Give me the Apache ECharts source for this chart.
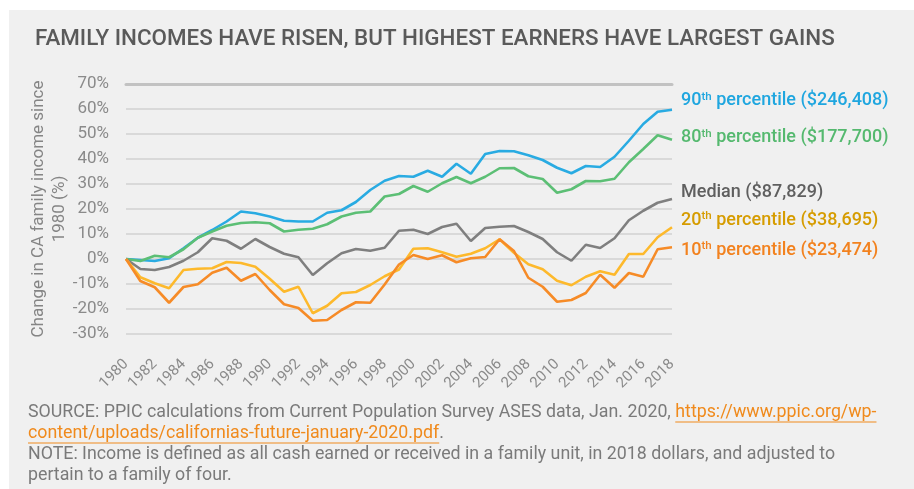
<!DOCTYPE html>
<html>
<head>
<meta charset="utf-8">
<script src="https://cdn.jsdelivr.net/npm/echarts@6/dist/echarts.min.js"></script>
<style>
  html, body { margin: 0; padding: 0; background: #fff; }
  #chart { width: 914px; height: 489px; }
</style>
</head>
<body>
<div id="chart"></div>
<script>
// years on the x axis
const years = ['1980', '1981', '1982', '1983', '1984', '1985', '1986', '1987', '1988', '1989',
  '1990', '1991', '1992', '1993', '1994', '1995', '1996', '1997', '1998', '1999',
  '2000', '2001', '2002', '2003', '2004', '2005', '2006', '2007', '2008', '2009',
  '2010', '2011', '2012', '2013', '2014', '2015', '2016', '2017', '2018'];

// change in CA family income since 1980 (%)
const p90 = [0, -0.4, -0.8, 0.3, 4.3, 8.5, 11.6, 15, 19, 18.3,
  17, 15.3, 15, 15, 18.5, 19.5, 22.8, 27.6, 31.3, 33.2,
  32.9, 35.3, 32.9, 38.1, 34.1, 42, 43.2, 43.1, 41.5, 39.6,
  36.5, 34.3, 37.2, 36.8, 40.9, 47.3, 54, 58.9, 59.7];
const p80 = [0, -0.8, 1.3, 0.7, 3.9, 8.5, 11, 13.3, 14.4, 14.7,
  14.3, 11, 11.7, 12.1, 13.9, 17, 18.5, 19, 25, 26,
  29.2, 26.9, 30.3, 32.8, 30.3, 32.9, 36.3, 36.4, 33.1, 32,
  26.5, 27.9, 31.2, 31.1, 32.1, 38.7, 44, 49.5, 47.7];
const median = [0, -4, -4.4, -3.2, -0.7, 2.7, 8.3, 7.3, 4.1, 8,
  4.8, 2.1, 0.7, -6.4, -1.7, 2.3, 4, 3.3, 4.5, 11.3,
  11.7, 10, 12.8, 14.1, 7.2, 12.4, 12.9, 13.2, 10.8, 8,
  2.7, -0.7, 5.7, 4.4, 8.3, 15.5, 19.3, 22.5, 24];
const p20 = [0, -7.3, -9.7, -11.7, -4.4, -3.9, -3.7, -1.2, -1.6, -3.1,
  -7.9, -13.1, -11.1, -21.7, -18.7, -13.7, -13.2, -10.4, -6.9, -4.2,
  4.1, 4.3, 2.7, 0.9, 2.1, 4.3, 7.9, 2.5, -2.1, -4.1,
  -8.7, -10.5, -7.1, -4.9, -6.3, 2, 2, 8.7, 12.7];
const p10 = [0, -8.8, -11.3, -17.5, -11.2, -10.1, -5.5, -3.5, -8.7, -6,
  -12.4, -18.1, -19.6, -24.7, -24.4, -20.4, -17.3, -17.5, -10.2, -2.2,
  1.6, 0, 1.5, -1.3, 0.3, 0.8, 7.9, 3.2, -7.5, -11.1,
  -17.1, -16.4, -13.6, -6.3, -11.5, -5.6, -7.1, 3.9, 4.7];

// end labels: rank, 2018 family income
const ranks = ['90', '80', 'Median', '20', '10'];
const incomes = ['$246,408', '$177,700', '$87,829', '$38,695', '$23,474'];

const seriesData = [p90, p80, median, p20, p10];
const lineColors = ['#29abe2', '#5cbf75', '#7f7f7f', '#fdb92c', '#f68b27'];
const textColors = ['#1fa6df', '#55b96f', '#5f5f5f', '#d69c00', '#f2821f'];
const labelShift = [-9, -2, -7, -7, 3];

const FONT = 'Roboto, "Noto Sans", sans-serif';
const noteColor = '#7a7a7a';
const linkColor = '#f08a1c';

function textWidth(str, size) {
  const ctx = document.createElement('canvas').getContext('2d');
  ctx.font = size + 'px ' + FONT;
  return ctx.measureText(str).width;
}

const src1 = 'SOURCE: PPIC calculations from Current Population Survey ASES data, Jan. 2020, ';
const link1 = 'https://www.ppic.org/wp-';
const link2 = 'content/uploads/californias-future-january-2020.pdf';
const noteSize = 17.8;
const noteX = 28;
const noteY = [413, 434, 455, 476];

const chart = echarts.init(document.getElementById('chart'));

const option = {
  backgroundColor: '#fff',
  textStyle: { fontFamily: FONT },
  animation: false,
  title: {
    text: 'FAMILY INCOMES HAVE RISEN, BUT HIGHEST EARNERS HAVE LARGEST GAINS',
    left: 30,
    top: 23,
    textStyle: { fontSize: 22.4, fontWeight: 500, color: '#5a5a5a', fontFamily: FONT }
  },
  grid: { left: 126, right: 242, top: 84, bottom: 155 },
  xAxis: [
    {
      type: 'category',
      data: years,
      boundaryGap: false,
      axisLine: { show: false },
      axisTick: { show: false },
      axisLabel: { interval: 1, rotate: 45, color: '#8a8a8a', fontSize: 15, margin: 28 }
    },
    {
      type: 'category',
      data: years,
      boundaryGap: false,
      axisLine: { show: true, onZero: true, lineStyle: { color: '#c2c2c2', width: 3 } },
      axisTick: { show: false },
      axisLabel: { show: false }
    }
  ],
  yAxis: {
    type: 'value',
    min: -30,
    max: 70,
    interval: 10,
    name: 'Change in CA family income since\n1980 (%)',
    nameLocation: 'middle',
    nameGap: 56,
    nameMoveOverlap: false,
    nameRotate: 90,
    nameTextStyle: { color: '#858585', fontSize: 17, lineHeight: 21 },
    axisLine: { show: false },
    axisTick: { show: false },
    axisLabel: { formatter: '{value}%', color: '#8a8a8a', fontSize: 17, margin: 17 },
    splitLine: { lineStyle: { color: '#d9d9d9', width: 2 } }
  },
  series: seriesData.map((data, i) => {
    const rich = {
      a: { color: textColors[i], fontSize: 18, fontWeight: 500, fontFamily: FONT },
      s: { color: textColors[i], fontSize: 11.5, fontWeight: 500, fontFamily: FONT, verticalAlign: 'top', padding: [0, 0, 8, 0] }
    };
    const name = ranks[i];
    return {
      type: 'line',
      name: name,
      data: data,
      showSymbol: false,
      symbol: 'none',
      lineStyle: { color: lineColors[i], width: 2.6 },
      itemStyle: { color: lineColors[i] },
      endLabel: {
        show: true,
        distance: 9,
        offset: [0, labelShift[i]],
        rich: rich,
        formatter: () => name === 'Median'
          ? '{a|Median (' + incomes[i] + ')}'
          : '{a|' + name + '}{s|th}{a| percentile (' + incomes[i] + ')}'
      }
    };
  }),
  graphic: [
    {
      type: 'rect',
      z: -100,
      silent: true,
      shape: { x: 9, y: 10, width: 905, height: 479 },
      style: { fill: '#f0f0f0' }
    },
    {
      type: 'text',
      x: noteX, y: noteY[0],
      style: {
        text: '{g|' + src1 + '}{o|' + link1 + '}',
        verticalAlign: 'middle',
        rich: {
          g: { fill: noteColor, fontSize: noteSize, fontFamily: FONT },
          o: { fill: linkColor, fontSize: noteSize, fontFamily: FONT }
        }
      }
    },
    {
      type: 'text',
      x: noteX, y: noteY[1],
      style: {
        text: '{o|' + link2 + '}{g|.}',
        verticalAlign: 'middle',
        rich: {
          g: { fill: noteColor, fontSize: noteSize, fontFamily: FONT },
          o: { fill: linkColor, fontSize: noteSize, fontFamily: FONT }
        }
      }
    },
    {
      type: 'text',
      x: noteX, y: noteY[2],
      style: {
        text: 'NOTE: Income is defined as all cash earned or received in a family unit, in 2018 dollars, and adjusted to',
        verticalAlign: 'middle',
        fill: noteColor, fontSize: noteSize, fontFamily: FONT
      }
    },
    {
      type: 'text',
      x: noteX, y: noteY[3],
      style: {
        text: 'pertain to a family of four.',
        verticalAlign: 'middle',
        fill: noteColor, fontSize: noteSize, fontFamily: FONT
      }
    },
    {
      type: 'line',
      silent: true,
      shape: {
        x1: noteX + textWidth(src1, noteSize), y1: noteY[0] + 9,
        x2: noteX + textWidth(src1 + link1, noteSize), y2: noteY[0] + 9
      },
      style: { stroke: linkColor, lineWidth: 1 }
    },
    {
      type: 'line',
      silent: true,
      shape: {
        x1: noteX, y1: noteY[1] + 9,
        x2: noteX + textWidth(link2, noteSize), y2: noteY[1] + 9
      },
      style: { stroke: linkColor, lineWidth: 1 }
    }
  ]
};

chart.setOption(option);
</script>
</body>
</html>
